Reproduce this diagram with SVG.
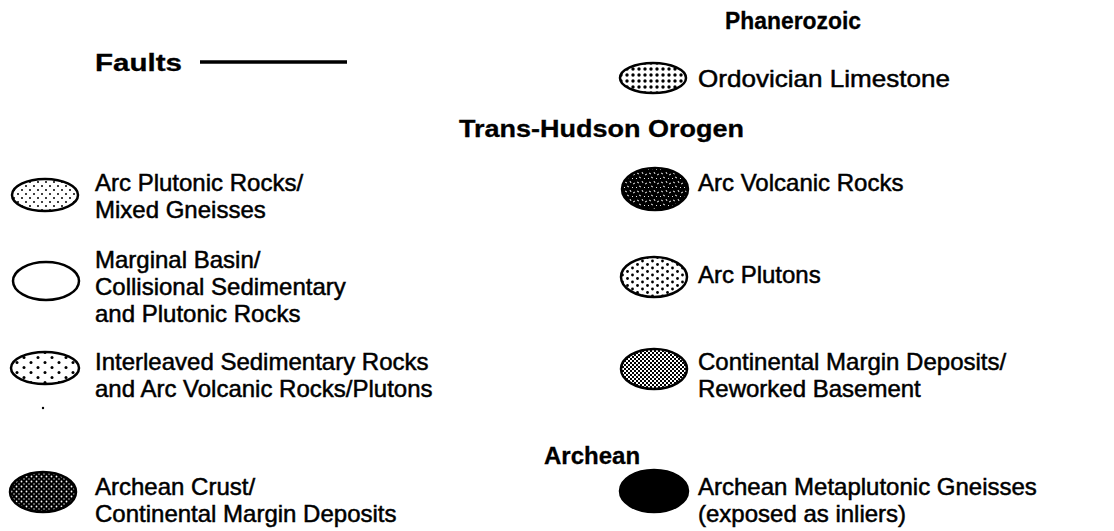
<svg xmlns="http://www.w3.org/2000/svg" width="1114" height="531" viewBox="0 0 1114 531">
<style>
text{font-family:"Liberation Sans",Arial,sans-serif;font-size:24px;fill:#000;stroke:#000;stroke-width:0.5px}
.h{font-weight:bold;stroke-width:0.3px}
.sym{stroke:#000;stroke-width:2.5}
</style>
<defs>
<pattern id="pOrd" width="6" height="6" patternUnits="userSpaceOnUse"><rect width="6" height="6" fill="#fff"/><circle cx="3" cy="3" r="1.7" fill="#000"/></pattern>
<pattern id="pFine" width="8" height="8" patternUnits="userSpaceOnUse"><rect width="8" height="8" fill="#fff"/><circle cx="2" cy="2" r="1" fill="#000"/><circle cx="6" cy="6" r="1" fill="#000"/></pattern>
<pattern id="pSparse" width="14" height="10" patternUnits="userSpaceOnUse"><rect width="14" height="10" fill="#fff"/><circle cx="3" cy="2.5" r="1.5" fill="#000"/><circle cx="10" cy="7.5" r="1.5" fill="#000"/></pattern>
<pattern id="pPlutons" width="10" height="7" patternUnits="userSpaceOnUse"><rect width="10" height="7" fill="#fff"/><circle cx="2.5" cy="2" r="1.4" fill="#000"/><circle cx="7.5" cy="5.5" r="1.4" fill="#000"/></pattern>
<pattern id="pCont" width="4" height="4" patternUnits="userSpaceOnUse"><rect width="4" height="4" fill="#fff"/><rect x="0" y="0" width="2" height="2" fill="#000"/><rect x="2" y="2" width="2" height="2" fill="#000"/></pattern>
<pattern id="pCrust" width="5" height="5" patternUnits="userSpaceOnUse"><rect width="5" height="5" fill="#000"/><circle cx="1.5" cy="1.5" r="0.9" fill="#fff"/><circle cx="4" cy="4" r="0.7" fill="#fff"/></pattern>
<pattern id="pVolc" width="12" height="9" patternUnits="userSpaceOnUse"><rect width="12" height="9" fill="#000"/><path d="M1 2l2 1M6 1l1 2M9 4l2-1M3 6l2 1M8 7l1 1M0 8l1-1" stroke="#fff" stroke-width="0.9"/></pattern>
</defs>

<g id="faults">
<text class="h" x="95" y="71" textLength="87" lengthAdjust="spacingAndGlyphs">Faults</text>
<line x1="200" y1="62" x2="347" y2="62" stroke="#000" stroke-width="3.5"/>
</g>

<g id="phanerozoic">
<text class="h" x="725" y="29" textLength="136" lengthAdjust="spacingAndGlyphs">Phanerozoic</text>
</g>
<g id="ordovician">
<ellipse class="sym" cx="653" cy="78" rx="33" ry="15" fill="url(#pOrd)"/>
<text x="698" y="87" textLength="252" lengthAdjust="spacingAndGlyphs">Ordovician Limestone</text>
</g>

<g id="trans-hudson">
<text class="h" x="459" y="137" textLength="285" lengthAdjust="spacingAndGlyphs">Trans-Hudson Orogen</text>
</g>

<g id="arc-plutonic">
<ellipse class="sym" cx="45" cy="195" rx="33" ry="16" fill="url(#pFine)"/>
<text x="95" y="191">Arc Plutonic Rocks/</text>
<text x="95" y="218">Mixed Gneisses</text>
</g>

<g id="arc-volcanic">
<ellipse class="sym" cx="655" cy="189" rx="33" ry="21" fill="url(#pVolc)"/>
<text x="698" y="191">Arc Volcanic Rocks</text>
</g>

<g id="marginal-basin">
<ellipse class="sym" cx="46" cy="281" rx="33" ry="19" fill="#fff"/>
<text x="95" y="268">Marginal Basin/</text>
<text x="95" y="295">Collisional Sedimentary</text>
<text x="95" y="322">and Plutonic Rocks</text>
</g>

<g id="arc-plutons">
<ellipse class="sym" cx="654" cy="277" rx="33" ry="20" fill="url(#pPlutons)"/>
<text x="698" y="283">Arc Plutons</text>
</g>

<g id="interleaved">
<ellipse class="sym" cx="45" cy="368" rx="34" ry="16" fill="url(#pSparse)"/>
<text x="95" y="370">Interleaved Sedimentary Rocks</text>
<text x="95" y="397">and Arc Volcanic Rocks/Plutons</text>
<circle cx="43" cy="408" r="1.2" fill="#000"/>
</g>

<g id="continental-margin">
<ellipse class="sym" cx="654" cy="369" rx="33" ry="20" fill="url(#pCont)"/>
<text x="698" y="370">Continental Margin Deposits/</text>
<text x="698" y="397">Reworked Basement</text>
</g>

<g id="archean">
<text class="h" x="544" y="464">Archean</text>
</g>

<g id="archean-crust">
<ellipse class="sym" cx="43" cy="492" rx="33" ry="20" fill="url(#pCrust)"/>
<text x="95" y="495">Archean Crust/</text>
<text x="95" y="522">Continental Margin Deposits</text>
</g>

<g id="archean-metaplutonic">
<ellipse class="sym" cx="654" cy="491" rx="34" ry="21" fill="#000"/>
<text x="698" y="495">Archean Metaplutonic Gneisses</text>
<text x="698" y="522">(exposed as inliers)</text>
</g>
</svg>
